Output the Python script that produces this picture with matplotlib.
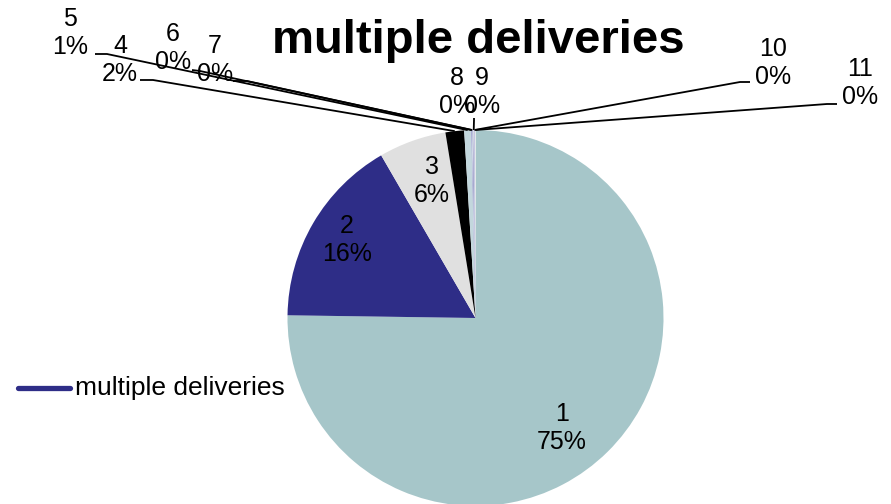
import numpy as np
import matplotlib
matplotlib.use("Agg")
import matplotlib.pyplot as plt

plt.rcParams['font.family'] = ['Liberation Sans', 'DejaVu Sans']

# data: share of shipments by number of deliveries
categories = ['1', '2', '3', '4', '5', '6', '7', '8', '9', '10', '11']
shares = [75.2, 16.4, 5.8, 1.6, 0.6, 0.06, 0.06, 0.06, 0.06, 0.06, 0.06]
pct_labels = ['75%', '16%', '6%', '2%', '1%', '0%', '0%', '0%', '0%', '0%', '0%']
title = 'multiple deliveries'

colors = ['#A6C6C9', '#2E2D87', '#E0E0E0', '#000000', '#C3D7DD',
          '#8C8CC8', '#D0E0E8', '#6666AA', '#E8E8F0', '#A0A0D0', '#F0F0F0']

W, H = 891, 504
fig = plt.figure(figsize=(W / 100, H / 100), dpi=100)
ax = fig.add_axes([0, 0, 1, 1])


def img(x, y):
    # image pixel coords (y down) -> axes coords (y up)
    return x, H - y


cx, cy = img(475.5, 318)
R = 188
wedges, _ = ax.pie(shares, colors=colors, startangle=90, counterclock=False,
                   radius=R, center=(cx, cy), frame=True)
ax.set_xlim(0, W)
ax.set_ylim(0, H)
ax.set_aspect('equal')
ax.axis('off')


def edge_point(w):
    ang = np.deg2rad((w.theta1 + w.theta2) / 2)
    return cx + R * np.cos(ang), cy + R * np.sin(ang)


# inside labels (text centre in image px)
inside_pos = {0: (562, 428), 1: (347, 240), 2: (432, 181)}
# outside labels: text centre, leader start, leader elbow
outside_pos = {
    3: ((120, 60), (140, 80), (153, 80)),
    4: ((70, 33), (95, 54), (107, 54)),
    5: ((173, 48), (192, 70), (200, 71)),
    6: ((215, 60), (233, 81), (247, 81)),
    7: ((457, 92), None, None),
    8: ((482, 92), (474, 118), (474, 120)),
    9: ((773, 63), (750, 82), (740, 82)),
    10: ((860, 83), (837, 104), (827, 104)),
}

for i, (cat, pct) in enumerate(zip(categories, pct_labels)):
    label = f'{cat}\n{pct}'
    if i in inside_pos:
        x, y = img(*inside_pos[i])
        ax.text(x, y, label, ha='center', va='center', fontsize=18,
                linespacing=1.2)
    else:
        tpos, start, elbow = outside_pos[i]
        x, y = img(*tpos)
        ax.text(x, y, label, ha='center', va='center', fontsize=18,
                linespacing=1.2)
        if start is not None:
            px, py = edge_point(wedges[i])
            sx, sy = img(*start)
            ex, ey = img(*elbow)
            ax.plot([sx, ex, px], [sy, ey, py], color='black', lw=1.3,
                    solid_capstyle='butt')

tx, ty = img(478, 41)
ax.text(tx, ty, title, ha='center', va='center', fontsize=34,
        fontweight='bold')

# legend entry
lx0, ly = img(18, 388)
lx1, _ = img(70, 388)
ax.plot([lx0, lx1], [ly, ly], color='#2E2D87', lw=3.8, solid_capstyle='round')
ax.text(75, ly, title, ha='left', va='center', fontsize=19)

fig.savefig('out.png', dpi=100)
